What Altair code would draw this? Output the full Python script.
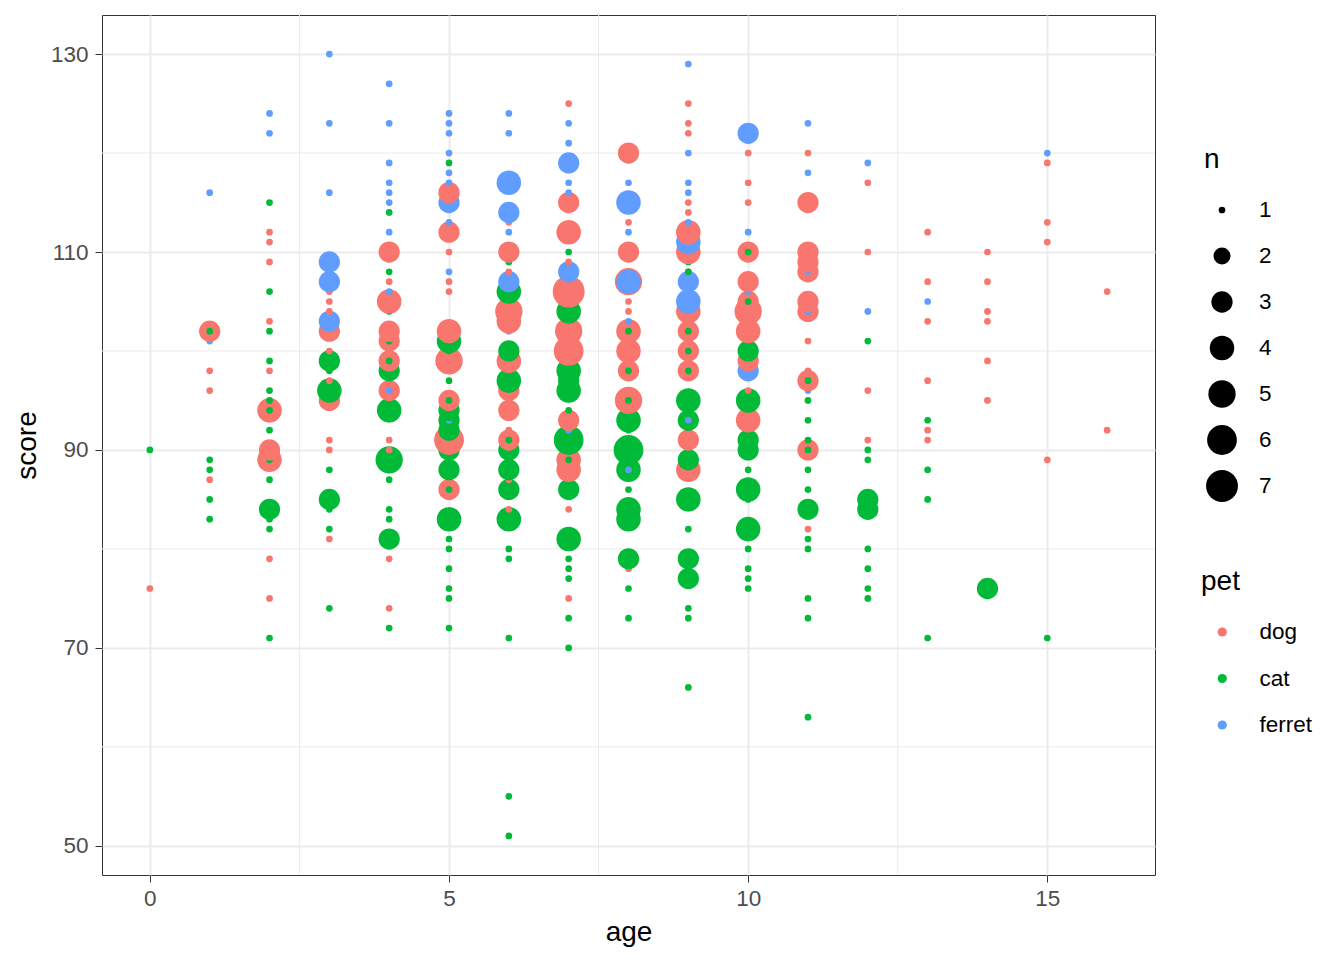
import altair as alt
import pandas as pd

pets = ["dog", "cat", "ferret"]
pet_colors = ["#F8766D", "#00BA38", "#619CFF"]

# (age, score, n)
dog_points = [
    (0, 76, 1),
    (1, 102, 3), (1, 98, 1), (1, 96, 1), (1, 87, 1),
    (2, 112, 1), (2, 111, 1), (2, 109, 1), (2, 103, 1), (2, 98, 1), (2, 94, 4), (2, 90, 3), (2, 89, 4), (2, 79, 1), (2, 75, 1),
    (3, 106, 1), (3, 105, 1), (3, 104, 1), (3, 102, 3), (3, 100, 1), (3, 97, 1), (3, 95, 3), (3, 91, 1), (3, 90, 1), (3, 81, 1),
    (4, 110, 3), (4, 107, 1), (4, 105, 4), (4, 102, 3), (4, 101, 3), (4, 99, 3), (4, 96, 3), (4, 91, 1), (4, 90, 1), (4, 79, 1), (4, 74, 1),
    (5, 116, 3), (5, 112, 3), (5, 110, 1), (5, 107, 1), (5, 106, 1), (5, 102, 4), (5, 99, 5), (5, 95, 3), (5, 91, 6), (5, 86, 3),
    (6, 113, 1), (6, 110, 3), (6, 108, 1), (6, 104, 5), (6, 103, 4), (6, 99, 4), (6, 96, 3), (6, 95, 1), (6, 94, 3), (6, 92, 1), (6, 91, 3), (6, 87, 1), (6, 84, 1),
    (7, 125, 1), (7, 115, 3), (7, 112, 4), (7, 109, 1), (7, 106, 7), (7, 102, 5), (7, 100, 6), (7, 93, 3), (7, 89, 4), (7, 88, 4), (7, 84, 1), (7, 75, 1),
    (8, 120, 3), (8, 113, 1), (8, 110, 3), (8, 107, 5), (8, 106, 1), (8, 105, 1), (8, 104, 1), (8, 102, 4), (8, 100, 4), (8, 98, 3), (8, 95, 5), (8, 78, 1),
    (9, 125, 1), (9, 123, 1), (9, 122, 1), (9, 115, 1), (9, 114, 1), (9, 112, 4), (9, 110, 4), (9, 109, 1), (9, 108, 1), (9, 104, 4), (9, 102, 3), (9, 101, 1), (9, 100, 3), (9, 98, 3), (9, 91, 3), (9, 88, 4),
    (10, 120, 1), (10, 117, 1), (10, 115, 1), (10, 110, 3), (10, 107, 3), (10, 105, 3), (10, 104, 5), (10, 102, 4), (10, 99, 3), (10, 96, 1), (10, 93, 4),
    (11, 120, 1), (11, 115, 3), (11, 110, 3), (11, 109, 3), (11, 108, 3), (11, 105, 3), (11, 104, 3), (11, 101, 1), (11, 98, 1), (11, 97, 3), (11, 90, 3), (11, 82, 1),
    (12, 117, 1), (12, 110, 1), (12, 96, 1), (12, 91, 1),
    (13, 112, 1), (13, 107, 1), (13, 103, 1), (13, 97, 1), (13, 92, 1), (13, 91, 1),
    (14, 110, 1), (14, 107, 1), (14, 104, 1), (14, 103, 1), (14, 99, 1), (14, 95, 1),
    (15, 119, 1), (15, 113, 1), (15, 111, 1), (15, 89, 1),
    (16, 106, 1), (16, 92, 1),
]

cat_points = [
    (0, 90, 1),
    (1, 102, 1), (1, 89, 1), (1, 88, 1), (1, 85, 1), (1, 83, 1),
    (2, 115, 1), (2, 106, 1), (2, 102, 1), (2, 99, 1), (2, 96, 1), (2, 95, 1), (2, 94, 1), (2, 92, 1), (2, 89, 1), (2, 87, 1), (2, 84, 3), (2, 83, 1), (2, 82, 1), (2, 71, 1),
    (3, 99, 3), (3, 98, 1), (3, 96, 4), (3, 88, 1), (3, 85, 3), (3, 84, 1), (3, 82, 1), (3, 74, 1),
    (4, 114, 1), (4, 108, 1), (4, 104, 1), (4, 101, 1), (4, 99, 1), (4, 98, 3), (4, 94, 4), (4, 89, 5), (4, 87, 1), (4, 84, 1), (4, 83, 1), (4, 81, 3), (4, 72, 1),
    (5, 119, 1), (5, 101, 4), (5, 100, 1), (5, 97, 1), (5, 95, 1), (5, 94, 3), (5, 93, 3), (5, 92, 3), (5, 90, 3), (5, 89, 1), (5, 88, 3), (5, 86, 1), (5, 83, 4), (5, 81, 1), (5, 80, 1), (5, 78, 1), (5, 76, 1), (5, 75, 1), (5, 72, 1),
    (6, 109, 1), (6, 106, 4), (6, 100, 3), (6, 97, 4), (6, 91, 1), (6, 90, 3), (6, 89, 1), (6, 88, 3), (6, 86, 3), (6, 83, 4), (6, 80, 1), (6, 79, 1), (6, 71, 1), (6, 55, 1), (6, 51, 1),
    (7, 110, 1), (7, 104, 4), (7, 98, 4), (7, 97, 3), (7, 96, 4), (7, 94, 1), (7, 91, 6), (7, 89, 1), (7, 86, 3), (7, 81, 4), (7, 79, 1), (7, 78, 1), (7, 77, 1), (7, 73, 1), (7, 70, 1),
    (8, 102, 1), (8, 98, 1), (8, 95, 1), (8, 93, 4), (8, 92, 1), (8, 90, 6), (8, 88, 4), (8, 86, 1), (8, 84, 4), (8, 83, 4), (8, 79, 3), (8, 76, 1), (8, 73, 1),
    (9, 109, 1), (9, 108, 1), (9, 102, 1), (9, 100, 1), (9, 98, 1), (9, 95, 4), (9, 93, 3), (9, 89, 3), (9, 85, 4), (9, 82, 1), (9, 79, 3), (9, 77, 3), (9, 74, 1), (9, 73, 1), (9, 66, 1),
    (10, 110, 1), (10, 105, 1), (10, 100, 3), (10, 95, 4), (10, 91, 3), (10, 90, 3), (10, 88, 1), (10, 86, 4), (10, 85, 1), (10, 82, 4), (10, 80, 1), (10, 78, 1), (10, 77, 1), (10, 76, 1),
    (11, 97, 1), (11, 95, 1), (11, 93, 1), (11, 91, 1), (11, 90, 1), (11, 88, 1), (11, 86, 1), (11, 84, 3), (11, 81, 1), (11, 80, 1), (11, 75, 1), (11, 73, 1), (11, 63, 1),
    (12, 101, 1), (12, 90, 1), (12, 89, 1), (12, 85, 3), (12, 84, 3), (12, 80, 1), (12, 78, 1), (12, 76, 1), (12, 75, 1),
    (13, 93, 1), (13, 88, 1), (13, 85, 1), (13, 71, 1),
    (14, 76, 3),
    (15, 71, 1),
]

ferret_points = [
    (1, 116, 1), (1, 101, 1),
    (2, 124, 1), (2, 122, 1),
    (3, 130, 1), (3, 123, 1), (3, 116, 1), (3, 109, 3), (3, 107, 3), (3, 103, 3),
    (4, 127, 1), (4, 123, 1), (4, 119, 1), (4, 117, 1), (4, 116, 1), (4, 115, 1), (4, 112, 1), (4, 106, 1), (4, 96, 1),
    (5, 124, 1), (5, 123, 1), (5, 122, 1), (5, 120, 1), (5, 118, 1), (5, 117, 1), (5, 115, 3), (5, 113, 1), (5, 108, 1), (5, 93, 1),
    (6, 124, 1), (6, 122, 1), (6, 117, 4), (6, 114, 3), (6, 112, 1), (6, 107, 3), (6, 102, 1),
    (7, 123, 1), (7, 121, 1), (7, 119, 3), (7, 117, 1), (7, 116, 1), (7, 108, 3), (7, 101, 1), (7, 99, 1), (7, 92, 1),
    (8, 117, 1), (8, 115, 4), (8, 112, 1), (8, 107, 4), (8, 103, 1), (8, 88, 1),
    (9, 129, 1), (9, 120, 1), (9, 117, 1), (9, 116, 1), (9, 113, 1), (9, 111, 4), (9, 107, 3), (9, 105, 4), (9, 93, 1),
    (10, 122, 3), (10, 112, 1), (10, 106, 1), (10, 98, 3),
    (11, 123, 1), (11, 118, 1), (11, 108, 1), (11, 104, 1), (11, 96, 1),
    (12, 119, 1), (12, 104, 1),
    (13, 105, 1),
    (15, 120, 1),
]

x_major = [0, 5, 10, 15]
y_major = [50, 70, 90, 110, 130]
x_minor = [2.5, 7.5, 12.5]
y_minor = [60, 80, 100, 120]
n_levels = [1, 2, 3, 4, 5, 6, 7]

rows = []
for rank, (pet, pts) in enumerate(zip(pets, [dog_points, cat_points, ferret_points])):
    for age, score, n in pts:
        rows.append({"age": age, "score": score, "n": n, "pet": pet, "rank": rank})
df = pd.DataFrame(rows).sort_values(["age", "score", "rank"]).reset_index(drop=True)
df["draw"] = range(len(df))

FONT = "Liberation Sans"

x_scale = alt.Scale(domain=[-0.8, 16.8], nice=False, zero=False)
y_scale = alt.Scale(domain=[47.05, 133.95], nice=False, zero=False)

axis_common = dict(
    grid=True, gridColor="#EBEBEB", gridWidth=2,
    domain=False, ticks=True, tickColor="#333333", tickWidth=1, tickSize=7,
    labelFont=FONT, labelFontSize=22.5, labelColor="#4D4D4D",
    titleFont=FONT, titleFontSize=28, titleFontWeight="normal", titleColor="black",
    labelFlush=False,
)

x_enc = alt.X("age:Q", scale=x_scale,
              axis=alt.Axis(values=x_major, title="age", labelPadding=5, titlePadding=9, **axis_common))
y_enc = alt.Y("score:Q", scale=y_scale,
              axis=alt.Axis(values=y_major, title="score", labelPadding=7, titlePadding=9, **axis_common))

minor_x_layer = alt.Chart(pd.DataFrame({"age": x_minor})).mark_rule(
    color="#EBEBEB", strokeWidth=1).encode(x=x_enc)
minor_y_layer = alt.Chart(pd.DataFrame({"score": y_minor})).mark_rule(
    color="#EBEBEB", strokeWidth=1).encode(y=y_enc)

size_scale = alt.Scale(domain=n_levels, range=[45, 289, 452, 602, 745, 886, 1018])

points = alt.Chart(df).mark_circle(opacity=1, strokeWidth=0).encode(
    x=x_enc,
    y=y_enc,
    size=alt.Size("n:Q", scale=size_scale, legend=alt.Legend(
        title="n", values=n_levels, orient="none", legendX=1102, legendY=131,
        symbolType="circle", symbolFillColor="black", symbolStrokeColor="black",
        symbolStrokeWidth=0, symbolOpacity=1, symbolOffset=2, labelOffset=21, clipHeight=36,
        rowPadding=10, titlePadding=18, padding=0,
        titleFont=FONT, titleFontSize=28, titleFontWeight="normal", titleColor="black",
        labelFont=FONT, labelFontSize=22.5, labelColor="black")),
    color=alt.Color("pet:N", scale=alt.Scale(domain=pets, range=pet_colors), legend=alt.Legend(
        title="pet", orient="none", legendX=1099, legendY=553,
        symbolType="circle", symbolSize=85, symbolOpacity=1, symbolStrokeWidth=0,
        symbolOffset=10, labelOffset=26, clipHeight=36, rowPadding=10.5,
        titlePadding=18, padding=0,
        titleFont=FONT, titleFontSize=28, titleFontWeight="normal", titleColor="black",
        labelFont=FONT, labelFontSize=22.5, labelColor="black")),
    order=alt.Order("draw:Q"),
)

chart = alt.layer(minor_x_layer, minor_y_layer, points).properties(
    width=1053, height=860,
    padding={"left": 94, "top": 7, "right": 181, "bottom": 77},
    autosize=alt.AutoSizeParams(type="none"),
    background="white",
).configure_view(stroke="#333333", strokeWidth=1)

chart.save("out.html", embed_options={"renderer": "svg", "actions": False})
